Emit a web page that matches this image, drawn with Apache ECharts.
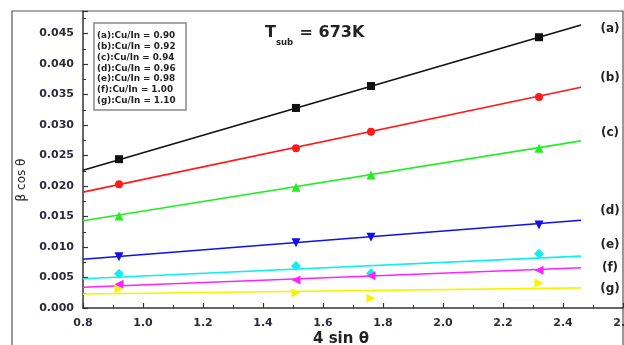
<!DOCTYPE html>
<html>
<head>
<meta charset="utf-8">
<script src="https://cdn.jsdelivr.net/npm/echarts@6/dist/echarts.min.js"></script>
<style>
html,body{margin:0;padding:0;background:#fff;}
#c{width:624px;height:345px;}
</style>
</head>
<body>
<div id="c"></div>
<script>
// ---- data ----
const xPoints = [0.92, 1.51, 1.76, 2.32];
const seriesA = [0.0244, 0.0328, 0.0364, 0.0444];
const seriesB = [0.0203, 0.0262, 0.0289, 0.0346];
const seriesC = [0.0151, 0.0198, 0.0218, 0.0262];
const seriesD = [0.0084, 0.0107, 0.0116, 0.0136];
const seriesE = [0.0056, 0.0069, 0.0057, 0.0089];
const seriesF = [0.0039, 0.0046, 0.0053, 0.0062];
const seriesG = [0.0031, 0.0025, 0.0016, 0.0041];
const fitX = [0.8, 2.46];
const fitA = [0.0226, 0.0464];
const fitB = [0.0190, 0.0362];
const fitC = [0.0143, 0.0274];
const fitD = [0.0080, 0.0144];
const fitE = [0.0048, 0.0085];
const fitF = [0.0034, 0.0066];
const fitG = [0.0023, 0.0033];
const seriesTags = ['(a)', '(b)', '(c)', '(d)', '(e)', '(f)', '(g)'];
const tagY = [0.0457, 0.0377, 0.0287, 0.0159, 0.0103, 0.0066, 0.0031];
const tagX = 2.55;
const legendLines = ['(a):Cu/In = 0.90', '(b):Cu/In = 0.92', '(c):Cu/In = 0.94', '(d):Cu/In = 0.96', '(e):Cu/In = 0.98', '(f):Cu/In = 1.00', '(g):Cu/In = 1.10'];
const titleMain = 'T', titleSub = 'sub', titleRest = ' = 673K';
const xTitle = '4 sin \u03B8';
const yTitle = '\u03B2 cos \u03B8';

const colors = ['#111111', '#ff1a1a', '#22ee22', '#1010ee', '#11eeee', '#ff22ff', '#f5f500'];
const symbols = ['rect', 'circle', 'triangle', 'triangle', 'diamond', 'triangle', 'triangle'];
const rotates = [0, 0, 0, 180, 0, 90, -90];
const sizes = [8, 8, 9, 9, 10, 9, 9];
const pts = [seriesA, seriesB, seriesC, seriesD, seriesE, seriesF, seriesG];
const fits = [fitA, fitB, fitC, fitD, fitE, fitF, fitG];

const series = [];
fits.forEach((f, i) => {
  series.push({
    type: 'line', data: fitX.map((x, j) => [x, f[j]]), symbol: 'none',
    lineStyle: { color: colors[i], width: 1.6 }, silent: true, z: 2
  });
});
pts.forEach((p, i) => {
  series.push({
    type: 'scatter', data: xPoints.map((x, j) => [x, p[j]]),
    symbol: symbols[i], symbolRotate: rotates[i], symbolSize: sizes[i],
    itemStyle: { color: colors[i], opacity: 1 }, z: 3
  });
});

const tickFont = { fontFamily: 'DejaVu Sans', fontWeight: 'bold', fontSize: 11, color: '#2b2b3a' };
const chart = echarts.init(document.getElementById('c'), null, { renderer: 'canvas' });
chart.setOption({
  animation: false,
  backgroundColor: '#fff',
  grid: { left: 83, right: 1, top: 11, bottom: 37, containLabel: false, outerBoundsMode: 'none' },
  xAxis: {
    type: 'value', min: 0.8, max: 2.6, interval: 0.2,
    axisLine: { onZero: false, lineStyle: { color: '#333', width: 1.5 } },
    axisTick: { inside: true, length: 5, lineStyle: { color: '#333', width: 1.2 } },
    minorTick: { show: true, splitNumber: 2, length: 3, lineStyle: { color: '#333', width: 1 } },
    splitLine: { show: false },
    axisLabel: Object.assign({ margin: 10, formatter: v => v.toFixed(1), showMaxLabel: true, hideOverlap: false }, tickFont)
  },
  yAxis: {
    type: 'value', min: 0, max: 0.0487, interval: 0.005,
    axisLine: { onZero: false, lineStyle: { color: '#333', width: 1.5 } },
    axisTick: { inside: true, length: 5, lineStyle: { color: '#333', width: 1.2 } },
    minorTick: { show: true, splitNumber: 2, length: 3, lineStyle: { color: '#333', width: 1 } },
    splitLine: { show: false },
    axisLabel: Object.assign({ margin: 9, showMaxLabel: false, formatter: v => v.toFixed(3) }, tickFont)
  },
  series: series
});

const tagGraphics = seriesTags.map((t, i) => {
  const p = chart.convertToPixel({ gridIndex: 0 }, [tagX, tagY[i]]);
  return {
    type: 'text', x: 610, y: p[1],
    style: { text: t, fontFamily: 'DejaVu Sans', fontWeight: 'bold', fontSize: 12, fill: '#222', align: 'center', verticalAlign: 'middle' }
  };
});

chart.setOption({
  graphic: [
    { type: 'rect', shape: { x: 12, y: 11, width: 611, height: 345 }, style: { fill: 'none', stroke: '#555', lineWidth: 1.2 }, silent: true },
    { type: 'rect', shape: { x: 94, y: 23, width: 92, height: 87 }, style: { fill: '#fff', stroke: '#888', lineWidth: 1.5 } },
    { type: 'text', x: 97, y: 30.5, style: { text: legendLines.join('\n'), fontFamily: 'DejaVu Sans', fontWeight: 'bold', fontSize: 8.8, lineHeight: 10.8, fill: '#222', verticalAlign: 'top' } },
    { type: 'text', x: 265, y: 33, style: { text: titleMain, fontFamily: 'DejaVu Sans', fontWeight: 'bold', fontSize: 16, fill: '#222', verticalAlign: 'middle' } },
    { type: 'text', x: 276, y: 43, style: { text: titleSub, fontFamily: 'DejaVu Sans', fontWeight: 'bold', fontSize: 8.5, fill: '#222', verticalAlign: 'middle' } },
    { type: 'text', x: 294, y: 33, style: { text: titleRest, fontFamily: 'DejaVu Sans', fontWeight: 'bold', fontSize: 16, fill: '#222', verticalAlign: 'middle' } },
    { type: 'text', x: 341, y: 339, style: { text: xTitle, fontFamily: 'DejaVu Sans', fontWeight: 'bold', fontSize: 15, fill: '#222', align: 'center', verticalAlign: 'middle' } },
    { type: 'text', x: 22, y: 180, rotation: Math.PI / 2, style: { text: yTitle, fontFamily: 'DejaVu Sans', fontSize: 12, fill: '#222', align: 'center', verticalAlign: 'middle' } }
  ].concat(tagGraphics)
});
</script>
</body>
</html>
